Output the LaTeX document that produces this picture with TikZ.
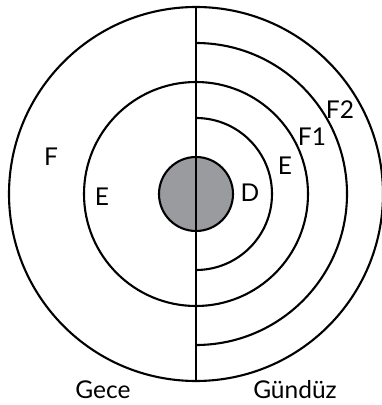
\documentclass[tikz,border=0pt]{standalone}
\usepackage{fontspec}
\setmainfont{Lato}
\usetikzlibrary{calc}
\definecolor{diskgray}{HTML}{9A9B9F}
\begin{document}
\begin{tikzpicture}[x=1pt,y=1pt,
  ring/.style={line width=2.1pt, black},
  lbl/.style={font=\fontsize{24.5}{28}\selectfont, inner sep=0pt, anchor=center}]
\useasboundingbox (0,0) rectangle (382,405);
\coordinate (c) at (196,211);
% outer circle and full E circle
\draw[ring] (c) circle (187);
\draw[ring] (c) circle (112);
% right-half arcs (day side)
\draw[ring] ($(c)+(0,151)$) arc[start angle=90, end angle=-90, radius=151];
\draw[ring] ($(c)+(0,76)$) arc[start angle=90, end angle=-90, radius=76];
% D region disk
\draw[ring, fill=diskgray] (c) circle (37);
% dividing line
\coordinate (top) at ($(c)+(0,187)$);
\coordinate (bot) at ($(c)+(0,-187)$);
\draw[ring] (top) -- (bot);
% labels
\node[lbl] (lF) at (51,248) {F};
\node[lbl] (lEl) at (102,208) {E};
\node[lbl] (lD) at (250,212) {D};
\node[lbl] (lEr) at (285,239) {E};
\node[lbl] (lF1) at (312,268) {F1};
\node[lbl] (lF2) at (340,295) {F2};
\node[lbl] (lG) at (103,15) {Gece};
\node[lbl] (lGu) at (295,15) {Gündüz};
\end{tikzpicture}
\end{document}
